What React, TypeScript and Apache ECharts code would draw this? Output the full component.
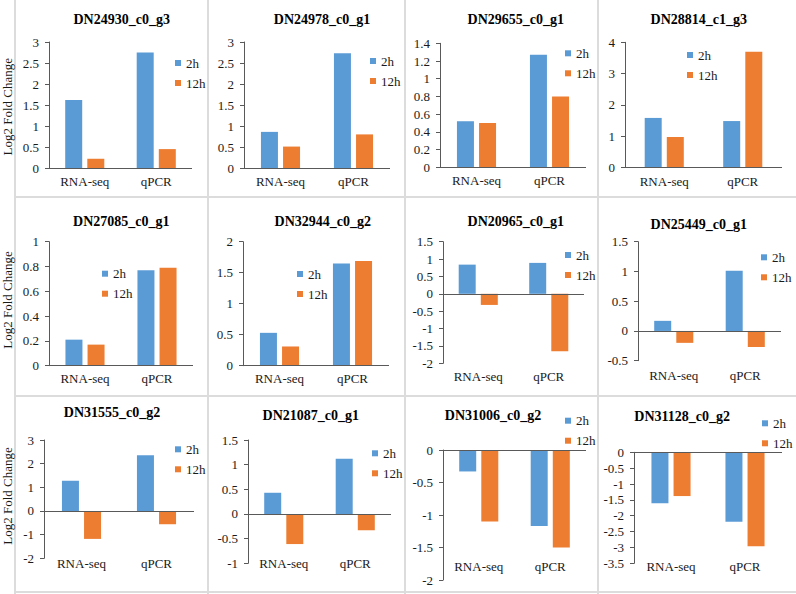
import React, { useEffect, useRef } from "react";
import * as echarts from "echarts";

const categories = ["RNA-seq", "qPCR"];
const seriesNames = ["2h", "12h"];
const geneNames = [
  "DN24930_c0_g3", "DN24978_c0_g1", "DN29655_c0_g1", "DN28814_c1_g3",
  "DN27085_c0_g1", "DN32944_c0_g2", "DN20965_c0_g1", "DN25449_c0_g1",
  "DN31555_c0_g2", "DN21087_c0_g1", "DN31006_c0_g2", "DN31128_c0_g2",
];
const values2h = [
  [1.62, 2.75], [0.86, 2.73], [0.52, 1.27], [1.58, 1.48],
  [0.21, 0.77], [0.53, 1.65], [0.84, 0.89], [0.17, 1.01],
  [1.28, 2.36], [0.43, 1.12], [-0.33, -1.17], [-1.61, -2.19],
];
const values12h = [
  [0.22, 0.45], [0.51, 0.8], [0.5, 0.8], [0.97, 3.7],
  [0.17, 0.79], [0.31, 1.69], [-0.32, -1.65], [-0.2, -0.27],
  [-1.18, -0.56], [-0.61, -0.33], [-1.1, -1.5], [-1.38, -2.96],
];
const yMins = [0, 0, 0, 0, 0, 0, -2, -0.5, -2, -1, -2, -3.5];
const yMaxs = [3, 3, 1.4, 4, 1, 2, 1.5, 1.5, 3, 1.5, 0, 0];
const yIntervals = [0.5, 0.5, 0.2, 1, 0.2, 0.5, 0.5, 0.5, 1, 0.5, 0.5, 0.5];
const yAxisTitle = "Log2 Fold Change";

// layout: [left, top, right, bottom] of each plot area (pixels)
const plotBoxes = [
  [49, 42, 192, 168], [244, 42, 390, 168], [440, 43.3, 586, 167.3], [625, 42.3, 782, 167.3],
  [49, 241.7, 193, 365.7], [243, 241.7, 389, 365.7], [443, 241.7, 584, 363.3], [638, 241.7, 781, 360.7],
  [44, 440, 194, 558.3], [248, 440, 391, 563.3], [443, 450, 586, 580], [634, 452.3, 782, 563.3],
];
const labelMargins = [7, 7, 7, 8, 6, 6, 7, 8, -1.5, -6, -20, -3];
const titlePos = [
  [121.7, 19.3], [322, 19], [515.8, 19.3], [698.8, 19],
  [121.3, 221], [322.8, 221], [515.8, 221.7], [698.8, 224],
  [112, 412.7], [310.8, 415], [493, 415], [682.2, 416],
];
const legendPos = [
  [175, 63], [370, 61], [565, 53.3], [687, 55],
  [102, 273.7], [297, 274], [565, 255], [761, 257.3],
  [175, 449.3], [372, 453.3], [565, 420.7], [762, 423.3],
];
const yTitleCenters = [106.7, 300, 496];

const FONT = "'Liberation Serif', 'Times New Roman', serif";
const BLUE = "#5B9BD5";
const ORANGE = "#ED7D31";
const AXIS = "#595959";
const TEXT = "#1a1a1a";

export default function App() {
  const ref = useRef<HTMLDivElement>(null);
  useEffect(() => {
    if (!ref.current) return;
    const chart = echarts.init(ref.current, undefined, { renderer: "svg" });
    const grids: any[] = [];
    const xAxes: any[] = [];
    const yAxes: any[] = [];
    const series: any[] = [];
    const legends: any[] = [];
    const graphics: any[] = [];

    // cell borders
    const vLines = [15, 208, 405, 598];
    const hLines = [197, 396, 592];
    vLines.forEach((x) =>
      graphics.push({ type: "line", shape: { x1: x, y1: 0, x2: x, y2: 594 }, style: { stroke: "#dcdcdc", lineWidth: 2 }, silent: true })
    );
    hLines.forEach((y) =>
      graphics.push({ type: "line", shape: { x1: 15, y1: y, x2: 796, y2: y }, style: { stroke: "#dcdcdc", lineWidth: 2 }, silent: true })
    );

    geneNames.forEach((name, i) => {
      const [l, t, r, b] = plotBoxes[i];
      grids.push({ left: l, top: t, width: r - l, height: b - t, containLabel: false });
      xAxes.push({
        type: "category",
        gridIndex: i,
        data: categories,
        axisLine: { show: false, onZero: false },
        axisTick: { show: false },
        axisLabel: { margin: labelMargins[i], color: TEXT, fontFamily: FONT, fontSize: 13 },
        splitLine: { show: false },
      });
      yAxes.push({
        type: "value",
        gridIndex: i,
        min: yMins[i],
        max: yMaxs[i],
        interval: yIntervals[i],
        axisLine: { show: true, lineStyle: { color: AXIS, width: 1 } },
        axisTick: { show: true, length: 4, lineStyle: { color: AXIS } },
        axisLabel: { margin: 10, color: TEXT, fontFamily: FONT, fontSize: 13 },
        splitLine: { show: false },
      });
      series.push({
        type: "bar",
        name: seriesNames[0],
        xAxisIndex: i,
        yAxisIndex: i,
        data: values2h[i],
        barWidth: 17,
        barGap: "30%",
        itemStyle: { color: BLUE },
        markLine: {
          silent: true,
          symbol: ["none", "none"],
          label: { show: false },
          lineStyle: { color: AXIS, width: 1, type: "solid" },
          data: [{ yAxis: 0 }],
        },
      });
      series.push({
        type: "bar",
        name: seriesNames[1],
        xAxisIndex: i,
        yAxisIndex: i,
        data: values12h[i],
        barWidth: 17,
        barGap: "30%",
        itemStyle: { color: ORANGE },
      });
      legends.push({
        orient: "vertical",
        left: legendPos[i][0],
        top: legendPos[i][1] - 6.5,
        padding: 0,
        itemWidth: 6,
        itemHeight: 6,
        itemGap: 7,
        icon: "rect",
        data: seriesNames,
        textStyle: { fontFamily: FONT, fontSize: 13, color: TEXT },
      });
      graphics.push({
        type: "text",
        x: titlePos[i][0],
        y: titlePos[i][1],
        style: {
          text: name,
          align: "center",
          verticalAlign: "middle",
          fontFamily: FONT,
          fontSize: 14,
          fontWeight: "bold",
          fill: "#000",
        },
      });
    });

    yTitleCenters.forEach((cy) =>
      graphics.push({
        type: "text",
        x: 7.5,
        y: cy,
        rotation: Math.PI / 2,
        style: {
          text: yAxisTitle,
          align: "center",
          verticalAlign: "middle",
          fontFamily: FONT,
          fontSize: 13,
          fill: TEXT,
        },
      })
    );

    chart.setOption({
      animation: false,
      backgroundColor: "#fff",
      textStyle: { fontFamily: FONT },
      grid: grids,
      xAxis: xAxes,
      yAxis: yAxes,
      series,
      legend: legends,
      graphic: graphics,
    });
    return () => chart.dispose();
  }, []);
  return (
    <div
      ref={ref}
      style={{ position: "absolute", left: 0, top: 0, width: 796, height: 594, background: "#fff" }}
    />
  );
}
